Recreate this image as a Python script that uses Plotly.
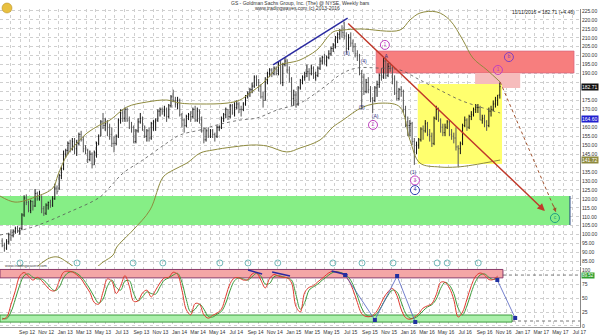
import plotly.graph_objects as go
import pandas as pd

# ---------------- weekly OHLC (GS, weekly bars, Jul 2012 - Nov 2016) ----------------
opens = [96.5,94.0,92.5,96.0, 100.0,99.5,102.0,103.5,102.0, 103.5,111.0,120.5,118.0, 113.5,118.5,116.0,123.0,
         120.0,121.0,114.5,112.0,116.5, 118.0,116.5,120.0,126.0,
         126,133,137,145, 147,151,148,152, 148,151,156,153,148, 147,142,145,139, 146,151,155,163,161,
         162,160,156,151, 151,155,164,168, 165,170,164,160,160, 152,158,163,165, 160,155,158,154,
         162,163,164,169,170, 169,170,166,172,
         177,175,173,175,167, 164,161,166,167, 166,170,164,169, 164,158,153,158, 155,158,156,155,160,
         160,165,167,170, 166,172,168,171, 173,170,170,173,177, 179,181,183,188, 185,183,177,175,186,
         190,192,190,193, 190,196,185,195,
         197,192,187,176,178, 173,182,186,188, 190,191,190,193, 188,189,193,197, 199,197,199,201,204,
         206,210,212,214, 213,211,204,210,207, 205,201,200,190, 188,180,185,181, 176,175,182,184,189,
         188,197,189,194, 193,187,179,176,
         181,180,170,163,161, 162,152,146,150, 153,159,158,162, 156,155,151,165,170, 164,160,157,160,
         163,156,155,154, 149,148,151,161,164, 160,166,167,170, 171,171,164,165,163, 161,169,170,173,
         175,178]
highs = [98.0,95.5,97.5,101.0, 103.0,103.0,104.5,105.0,104.0, 112.0,122.0,122.5,119.0, 119.5,119.0,125.5,124.0,
         124.5,122.0,116.0,117.5,118.5, 119.5,121.5,128.5,127.5,
         134,138,147,148, 152,153,154,154, 153,157,158,155,150, 148,147,146,147, 152,156,164,168,165,
         164,162,160,155, 156,165,170,170, 171,171,166,163,161, 159,165,168,166, 161,159,160,163,
         164,165,170,171,171, 172,171,173,178,
         181,177,177,176,168, 165,167,168,169, 171,172,171,170, 166,160,159,160, 159,159,157,161,161,
         166,168,171,170, 173,173,174,175, 174,172,174,178,180, 182,185,189,189, 187,184,180,188,191,
         193,193,194,194, 197,197,196,199,
         198,194,188,181,180, 183,187,189,191, 195,193,195,194, 191,194,199,200, 201,200,203,205,207,
         211,213,215,217, 219,213,212,213,209, 207,203,201,192, 190,187,188,183, 177,183,186,190,193,
         199,199,196,196, 194,189,186,182,
         183,181,172,166,164, 163,154,152,154, 160,161,164,163, 159,157,166,172,171, 165,162,162,164,
         164,159,157,160, 150,152,162,166,165, 167,169,171,173, 173,172,167,167,164, 171,172,175,177,
         178,185]
lows = [93.0,90.5,91.5,94.5, 96.5,98.5,100.5,101.0,100.0, 102.5,110.0,116.5,112.5, 112.0,113.5,115.5,119.0,
        119.0,112.0,110.5,111.0,114.0, 115.0,115.5,119.5,122.5,
        125,131,136,143, 145,146,147,145, 144,150,152,146,145, 140,141,137,139, 143,150,155,159,158,
        155,153,149,146, 150,154,162,163, 163,163,159,157,151, 151,157,162,158, 154,152,152,153,
        158,158,163,166,167, 166,163,165,171,
        174,171,170,166,160, 157,160,164,163, 165,163,163,162, 157,151,152,154, 154,154,152,154,158,
        159,163,165,164, 165,167,166,170, 168,166,169,172,176, 177,179,182,183, 180,176,171,175,184,
        188,188,189,189, 189,184,183,194,
        190,185,172,172,171, 172,181,184,186, 188,186,189,187, 186,188,192,195, 195,194,198,200,202,
        204,207,209,210, 209,201,203,205,202, 199,197,189,170, 178,179,179,174, 168,174,177,182,186,
        187,187,188,191, 184,178,175,175,
        177,168,160,155,155, 150,139,145,148, 152,153,157,155, 152,149,150,164,163, 157,155,155,159,
        155,153,151,147, 138,145,150,160,158, 159,164,166,168, 168,164,162,160,158, 160,166,169,171,
        172,176]
close = [94.0,92.5,96.0,100.0, 99.5,102.0,103.5,102.0,103.5, 111.0,120.5,118.0,113.5, 118.5,116.0,123.0,120.0,
         121.0,114.5,112.0,116.5,118.0, 116.5,120.0,126.0,124.0,
         133,137,145,147, 151,148,152,148, 151,156,153,148,147, 142,145,139,146, 151,155,163,161,162,
         160,156,151,151, 155,164,168,165, 170,164,160,160,152, 158,163,165,160, 155,158,154,162,
         163,164,169,170,169, 170,166,172,177,
         175,173,175,167,164, 161,166,167,166, 170,164,169,164, 158,153,158,155, 158,156,155,160,160,
         165,167,170,166, 172,168,171,173, 170,170,173,177,179, 181,183,188,185, 183,177,175,186,190,
         192,190,193,190, 196,185,195,197,
         192,187,176,178,173, 182,186,188,190, 191,190,193,188, 189,193,197,199, 197,199,201,204,206,
         210,212,214,213, 211,204,210,207,205, 201,200,190,188, 180,185,181,176, 175,182,184,189,188,
         197,189,194,193, 187,179,176,181,
         180,170,163,161,162, 152,146,150,153, 159,158,162,156, 155,151,165,170,164, 160,157,160,163,
         156,155,154,149, 148,151,161,164,160, 166,167,170,171, 171,164,165,163,161, 169,170,173,175,
         178,182.71]

# ---------------- envelope lines ----------------
upper_dates = ["2012-06-29","2012-08-16","2012-10-19","2012-12-15","2012-12-31","2013-01-29","2013-03-02",
               "2013-04-03","2013-05-14","2013-06-15","2013-08-08","2013-10-11","2013-12-14","2014-01-25",
               "2014-03-30","2014-06-24","2014-08-04","2014-09-05","2014-10-17","2014-11-18","2014-12-10",
               "2015-01-21","2015-02-12","2015-04-07","2015-05-28","2015-06-29","2015-08-23","2015-12-28",
               "2016-01-29","2016-03-01","2016-04-24","2016-06-04","2016-07-16","2016-08-17","2016-10-01",
               "2016-11-12"]
upper_vals = [121.6,118.2,121.0,126.1,133.3,144.5,151.2,156.8,161.3,164.0,171.3,174.1,175.2,173.5,173.0,
              173.5,175.2,179.1,184.7,190.9,194.8,196.5,197.6,203.2,213.2,214.3,214.9,214.3,219.9,223.8,
              224.4,219.9,208.7,198.7,192.0,185.3]
lower_dates = ["2012-10-28","2012-12-05","2012-12-31","2013-01-29","2013-03-11","2013-04-28","2013-05-24",
               "2013-06-25","2013-07-07","2013-08-28","2013-10-21","2013-12-02","2014-01-03","2014-02-16",
               "2014-03-30","2014-05-10","2014-07-13","2014-09-15","2014-10-30","2015-01-01","2015-02-12",
               "2015-04-17","2015-05-28","2015-06-29","2015-09-01","2015-11-04","2015-12-28","2016-01-29",
               "2016-03-01","2016-05-03","2016-06-27","2016-08-17","2016-11-12"]
lower_vals = [82.5,87.0,87.5,84.7,80.3,81.4,84.7,88.6,93.1,102.6,113.8,132.2,136.1,140.0,145.6,147.3,149.0,
              150.1,149.5,146.2,148.4,152.9,160.1,164.0,171.3,173.5,171.3,152.9,140.0,137.8,137.8,138.9,141.7]
mid_dates = ["2012-06-29","2012-10-12","2013-01-29","2013-05-14","2013-06-15","2013-07-27","2013-09-28",
             "2013-12-14","2014-01-25","2014-03-30","2014-05-23","2014-08-04","2014-09-28","2014-11-30",
             "2015-02-12","2015-04-17","2015-06-29","2015-08-13","2015-10-16","2015-12-28","2016-03-01",
             "2016-05-03","2016-07-07","2016-09-09","2016-11-12"]
mid_vals = [99.8,104.3,112.1,121.0,126.6,134.4,141.7,151.2,155.7,158.5,161.3,164.0,165.2,169.6,173.5,180.8,
            190.3,193.1,193.1,192.0,186.4,180.8,175.2,171.3,168.0]

# ---------------- stochastic (biweekly readings) ----------------
stoch_k = [12,15.5,38,63,89,95.5,89,82,87,81,72,64,63,80,96,98,96.5,91.5,84.5,72,60,42,39,60.7,84,80,58,71,90,
           71,44,45,59,64,52,64,77,86,87,96,92,64,29,20,40,39,20,14,19,23,30,53,76,86,86,82,83,93,95,82,68,85,
           92,89,87,86,77,35,25,60,69,72,79,85,92,97,97,95,91,82,65,42,22,17,17,22,34,50,61,67,55,30,15,12,
           16,22,32,36,40,56,78,78,68,47,16,25,48,72,89,94.6,91,83,83,89]
stoch_d = [14,13,25,48,73,90,93,87,84,84,78,69,63,69,86,95,97,94,88,78,66,52,41,48,71,82,69,64,80,81,58,45,
           52,61,58,57,70,82,86,91,94,78,47,25,30,39,30,17,16,21,26,41,64,81,86,84,82,88,94,89,75,76,88,90,
           88,86,82,56,30,42,64,70,75,82,88,94,97,96,93,87,74,54,32,20,17,19,28,42,55,64,61,43,23,14,14,19,
           27,34,38,48,67,78,73,58,32,20,36,60,80,91,93,87,83,86]

# ---------------- zones, projections and markers ----------------
green_zone = ["2012-06-29", "2017-06-23", 105.4, 121.6]
red_zone = ["2015-10-13", "2017-07-06", 190.3, 202.6]
pink_zone = ["2016-08-24", "2017-01-15", 181.9, 190.3]
yellow_zone = ["2016-02-23", "2016-11-18", 139.5, 184.2]
blue_trend = [["2014-11-18", "2015-07-14"], [194.8, 221.0]]
red_proj = [["2015-07-11", "2017-04-04"], [218.8, 113.2]]
dot_proj = [["2016-11-12", "2017-05-09"], [185.3, 112.7]]
cycle_dates = ["2012-09-01","2013-03-02","2013-08-28","2013-12-01","2014-06-01","2014-08-30","2014-12-03",
               "2015-05-28","2015-08-29","2015-12-06","2016-04-25","2016-05-27","2016-09-03"]
wave_dates = ["2015-11-10","2016-12-10","2016-11-05","2015-10-03","2016-02-14","2016-02-14","2017-05-06"]
wave_prices = [206.0,199.2,192.0,161.3,130.3,124.9,109.3]
wave_text = ["1","b","1","2","3","4","c"]
wave_colors = ["#C040C0","#8040C0","#C040C0","#C040C0","#C040C0","#3040B0","#20A080"]
small_dates = ["2015-07-11","2015-09-03","2015-08-28","2015-10-10","2015-11-14","2016-02-08"]
small_prices = [200.9,196.5,170.8,165.7,199.2,134.4]
small_text = ["(3)","(4)","(5)","(A)","A","(1)"]
stoch_red_band = ["2012-06-29", "2016-11-21", 86, 101]
stoch_green_band = ["2012-06-29", "2016-12-20", 7, 19.6]
stoch_path_dates = ["2015-07-06","2015-10-09","2015-12-19","2016-02-15"]
stoch_path_vals = [91.1,10.7,89.3,7.1]
stoch_path2_dates = ["2016-11-03","2016-12-30"]
stoch_path2_vals = [82.1,14.3]
div_lines = [(["2014-08-30","2014-10-14"],[100,92.9]), (["2014-11-15","2015-01-11"],[96.4,89.3]),
             (["2015-05-24","2015-07-14"],[98.2,91.1])]
price_ticks = [85,90,95,100,105,110,115,120,125,130,135,140,145,150,155,160,165,170,175,180,185,190,195,200,
               205,210,215,220,225]
price_tick_labels = ["85.00","90.00","95.00","100.00","105.00","110.00","115.00","120.00","125.00","130.00",
                     "135.00","","145.00","150.00","155.00","160.00","","170.00","175.00","","","190.00",
                     "195.00","200.00","205.00","210.00","215.00","220.00","225.00"]
tick_dates = ["2012-09-01","2012-11-01","2013-01-01","2013-03-01","2013-05-01","2013-07-01","2013-09-01",
              "2013-11-01","2014-01-01","2014-03-01","2014-05-01","2014-07-01","2014-09-01","2014-11-01",
              "2015-01-01","2015-03-01","2015-05-01","2015-07-01","2015-09-01","2015-11-01","2016-01-01",
              "2016-03-01","2016-05-01","2016-07-01","2016-09-01","2016-11-01","2017-01-01","2017-03-01",
              "2017-05-01","2017-07-01"]
tick_labels = ["Sep 12","Nov 12","Jan 13","Mar 13","May 13","Jul 13","Sep 13","Nov 13","Jan 14","Mar 14",
               "May 14","Jul 14","Sep 14","Nov 14","Jan 15","Mar 15","May 15","Jul 15","Sep 15","Nov 15",
               "Jan 16","Mar 16","May 16","Jul 16","Sep 16","Nov 16","Jan 17","Mar 17","May 17","Jul 17"]

X_RANGE = ["2012-06-29", "2017-07-25"]
FONT = "Liberation Sans"
GRID = "#CFCFCF"

dates = pd.date_range("2012-07-06", periods=len(close), freq="W-FRI")
stoch_dates = dates[::2]

fig = go.Figure()

# envelope lines
fig.add_trace(go.Scatter(x=upper_dates, y=upper_vals, mode="lines", xaxis="x", yaxis="y",
                         line=dict(color="#8E8A3E", width=1, shape="spline"), hoverinfo="skip"))
fig.add_trace(go.Scatter(x=lower_dates, y=lower_vals, mode="lines", xaxis="x", yaxis="y",
                         line=dict(color="#8E8A3E", width=1, shape="spline"), hoverinfo="skip"))
fig.add_trace(go.Scatter(x=mid_dates, y=mid_vals, mode="lines", xaxis="x", yaxis="y",
                         line=dict(color="#555555", width=0.8, dash="dot", shape="spline"), hoverinfo="skip"))

# price bars
fig.add_trace(go.Ohlc(x=dates, open=opens, high=highs, low=lows, close=close, xaxis="x", yaxis="y",
                      increasing=dict(line=dict(color="#111111", width=1)),
                      decreasing=dict(line=dict(color="#555555", width=1)), tickwidth=0.3))

# projections
fig.add_trace(go.Scatter(x=blue_trend[0], y=blue_trend[1], mode="lines", xaxis="x", yaxis="y",
                         line=dict(color="#2A2AA0", width=1.5), hoverinfo="skip"))
fig.add_trace(go.Scatter(x=dot_proj[0], y=dot_proj[1], mode="lines", xaxis="x", yaxis="y",
                         line=dict(color="#A0522D", width=1, dash="dot"), hoverinfo="skip"))

# cycle markers
fig.add_trace(go.Scatter(x=cycle_dates, y=[84.2] * len(cycle_dates), mode="markers", xaxis="x", yaxis="y",
                         marker=dict(symbol="circle-open", size=6, color="#70B8B8", line=dict(width=1)),
                         cliponaxis=False, hoverinfo="skip"))
# wave labels
fig.add_trace(go.Scatter(x=wave_dates, y=wave_prices, mode="markers+text", xaxis="x", yaxis="y",
                         text=wave_text, textposition="middle center",
                         textfont=dict(size=5, color=wave_colors, family=FONT),
                         marker=dict(symbol="circle-open", size=9, color=wave_colors, line=dict(width=1)),
                         cliponaxis=False, hoverinfo="skip"))
fig.add_trace(go.Scatter(x=small_dates, y=small_prices, mode="text", xaxis="x", yaxis="y",
                         text=small_text, textfont=dict(size=5, color="#303080", family=FONT),
                         hoverinfo="skip"))

# stochastic
fig.add_trace(go.Scatter(x=stoch_dates, y=stoch_d, mode="lines", xaxis="x2", yaxis="y2",
                         line=dict(color="#3C9A3C", width=1, shape="spline"), hoverinfo="skip"))
fig.add_trace(go.Scatter(x=stoch_dates, y=stoch_k, mode="lines", xaxis="x2", yaxis="y2",
                         line=dict(color="#E03A2F", width=1, shape="spline"), hoverinfo="skip"))
fig.add_trace(go.Scatter(x=stoch_path_dates, y=stoch_path_vals, mode="lines+markers", xaxis="x2", yaxis="y2",
                         line=dict(color="#5060C0", width=0.8),
                         marker=dict(symbol="square", size=4, color="#2030A0"), hoverinfo="skip"))
fig.add_trace(go.Scatter(x=stoch_path2_dates, y=stoch_path2_vals, mode="lines+markers", xaxis="x2", yaxis="y2",
                         line=dict(color="#5060C0", width=0.8),
                         marker=dict(symbol="square", size=4, color="#2030A0"), hoverinfo="skip"))
for dx, dy in div_lines:
    fig.add_trace(go.Scatter(x=dx, y=dy, mode="lines", xaxis="x2", yaxis="y2",
                             line=dict(color="#2A2AA0", width=1.5), hoverinfo="skip"))

shapes = []
def rect(z, fill, line_color=None, xref="x", yref="y", lw=0):
    shapes.append(dict(type="rect", xref=xref, yref=yref, x0=z[0], x1=z[1], y0=z[2], y1=z[3],
                       fillcolor=fill, line=dict(color=line_color or fill, width=lw), layer="between"))

rect(green_zone, "#86EE86")
rect(red_zone, "#F77E7E", "#D05A7A", lw=0.6)
rect(pink_zone, "#F6BCBC")
rect(yellow_zone, "#FFFF6E")
rect(stoch_red_band, "#F4A6A6", "#8A3A6A", xref="x2", yref="y2", lw=1)
rect(stoch_green_band, "#ACF0AC", "#3C9C3C", xref="x2", yref="y2", lw=1)
shapes.append(dict(type="line", xref="x", yref="y", x0=green_zone[1], x1=green_zone[1],
                   y0=green_zone[2], y1=green_zone[3], line=dict(color="#204080", width=1)))
shapes.append(dict(type="line", xref="x2", yref="y2", x0=stoch_red_band[1], x1=X_RANGE[1], y0=91, y1=91,
                   line=dict(color="#555555", width=0.8, dash="dot")))
shapes.append(dict(type="line", xref="x2", yref="y2", x0=stoch_green_band[1], x1=X_RANGE[1], y0=8.9, y1=8.9,
                   line=dict(color="#555555", width=0.8, dash="dot")))
# logo
shapes.append(dict(type="circle", xref="paper", yref="paper", x0=2/600, x1=12/600, y0=1-13/335, y1=1-3/335,
                   fillcolor="#E8C040", line=dict(color="#B08820", width=0.5)))

annotations = [
    dict(x=red_proj[0][1], y=red_proj[1][1], ax=red_proj[0][0], ay=red_proj[1][0], xref="x", yref="y",
         axref="x", ayref="y", showarrow=True, arrowhead=2, arrowsize=1, arrowwidth=1.5,
         arrowcolor="#C0392B", text=""),
    dict(x=dot_proj[0][1], y=dot_proj[1][1], ax=-3, ay=-8, xref="x", yref="y", showarrow=True,
         arrowhead=2, arrowsize=0.8, arrowwidth=1, arrowcolor="#A0522D", text=""),
    dict(x=0.5, y=1 - 3/335, xref="paper", yref="paper", showarrow=False,
         text="GS - Goldman Sachs Group, Inc. (The) @ NYSE, Weekly bars",
         font=dict(size=5, family=FONT, color="#333"), xanchor="center", yanchor="middle"),
    dict(x=0.495, y=1 - 8/335, xref="paper", yref="paper", showarrow=False,
         text="www.tradingwaves.com (c) 2013-2016",
         font=dict(size=5, family=FONT, color="#333"), xanchor="center", yanchor="middle"),
    dict(x=577/600, y=1 - 12/335, xref="paper", yref="paper", showarrow=False,
         text="11/11/2016 = 182.71 (+4.46)", font=dict(size=5, family=FONT, color="#222"),
         xanchor="right", yanchor="middle"),
    dict(x=3/600, y=1 - 265/335, xref="paper", yref="paper", showarrow=False,
         text="www.tradingwaves.com", font=dict(size=4, family=FONT, color="#444"),
         xanchor="left", yanchor="middle"),
]
for val, txt, bg in [(182.71, "182.71", "#111111"), (164.6, "164.60", "#2020D0"), (141.7, "141.72", "#8E8A3E")]:
    annotations.append(dict(x=581/600, y=val, xref="paper", yref="y", showarrow=False, text=txt,
                            font=dict(size=5, family=FONT, color="white"), bgcolor=bg, borderpad=0,
                            xanchor="left", yanchor="middle"))
annotations.append(dict(x=581/600, y=89.5, xref="paper", yref="y2", showarrow=False, text="89.52",
                        font=dict(size=4.5, family=FONT, color="white"), bgcolor="#30A030", borderpad=0,
                        xanchor="left", yanchor="middle"))

fig.update_layout(
    template="none", width=600, height=335, margin=dict(l=0, r=0, t=0, b=0),
    paper_bgcolor="white", plot_bgcolor="white", showlegend=False,
    font=dict(family=FONT, size=5, color="#333"),
    shapes=shapes, annotations=annotations,
    xaxis=dict(domain=[0, 580/600], range=X_RANGE, anchor="y", showticklabels=False, ticks="",
               showgrid=True, gridcolor=GRID, griddash="dot", gridwidth=0.6, dtick="M1", tick0="2012-07-01",
               rangeslider=dict(visible=False), zeroline=False, showline=False, automargin=False),
    xaxis2=dict(domain=[0, 580/600], range=X_RANGE, anchor="y2", matches="x", tickmode="array",
                tickvals=tick_dates, ticktext=tick_labels, ticklabelshift=7, ticks="",
                tickfont=dict(size=5, family=FONT, color="#333"), showgrid=False,
                minor=dict(dtick="M1", tick0="2012-07-01", showgrid=True, gridcolor=GRID, griddash="dot",
                           gridwidth=0.6),
                showline=True, linecolor="#999999", linewidth=0.8, zeroline=False,
                rangeslider=dict(visible=False), automargin=False),
    yaxis=dict(domain=[1 - 266/335, 1 - 9/335], range=[82.5, 226.06], side="right", anchor="x",
               tickmode="array", tickvals=price_ticks, ticktext=price_tick_labels, ticks="",
               tickfont=dict(size=5, family=FONT, color="#333"),
               showgrid=True, gridcolor=GRID, griddash="dot", gridwidth=0.6, showline=True,
               linecolor="#888888", linewidth=0.8, zeroline=False, automargin=False),
    yaxis2=dict(domain=[1 - 327/335, 1 - 267/335], range=[-1.8, 105.4], side="right", anchor="x2",
                tickmode="array", tickvals=[0, 25, 50, 75, 100], ticks="",
                tickfont=dict(size=5, family=FONT, color="#333"), showgrid=True, gridcolor=GRID,
                griddash="dot", gridwidth=0.6, showline=True, linecolor="#888888", linewidth=0.8,
                zeroline=False, automargin=False),
)

fig.write_html("out.html")
